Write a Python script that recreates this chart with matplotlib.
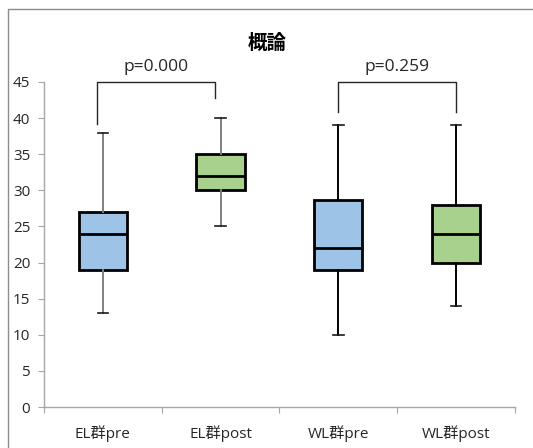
import matplotlib.pyplot as plt
from matplotlib.lines import Line2D

plt.rcParams["font.family"] = ["Open Sans", "Noto Sans CJK JP", "DejaVu Sans"]

# 群ごとの五数要約
labels = ["EL群pre", "EL群post", "WL群pre", "WL群post"]
whislo = [13, 25, 10, 14]
q1 = [19, 30, 19, 20]
med = [24, 32, 22, 24]
q3 = [27, 35, 28.6, 28]
whishi = [38, 40, 39, 39]
fills = ["#9DC3E6", "#A9D18E", "#9DC3E6", "#A9D18E"]
whisker_colors = ["#7f7f7f", "#7f7f7f", "#000000", "#000000"]

# 検定結果 (比較する2群の位置, 脚の下端, p値)
pairs = [(1, 2), (3, 4)]
leg_ends = [(39.2, 42.8), (40.9, 40.9)]
p_texts = ["p=0.000", "p=0.259"]

fig = plt.figure(figsize=(5.33, 4.48), dpi=100)
ax = fig.add_axes([0.0826, 0.0915, 0.8834, 0.7255])

stats = []
for i in range(len(labels)):
    stats.append({"whislo": whislo[i], "q1": q1[i], "med": med[i],
                  "q3": q3[i], "whishi": whishi[i], "fliers": []})

positions = [1, 2, 3, 4]
bp = ax.bxp(stats, positions=positions, widths=0.41, patch_artist=True,
            showfliers=False,
            boxprops=dict(linewidth=2.0, edgecolor="black"),
            medianprops=dict(color="black", linewidth=2.0),
            capwidths=0.09,
            capprops=dict(color="#1a1a1a", linewidth=1.2))
for patch, c in zip(bp["boxes"], fills):
    patch.set_facecolor(c)
for i, c in enumerate(whisker_colors):
    for w in bp["whiskers"][2 * i:2 * i + 2]:
        w.set_color(c)
        w.set_linewidth(1.4)

# 有意差のブラケット
offsets = [-0.05, 0.0]
for (a, b), (la, lb), txt, off in zip(pairs, leg_ends, p_texts, offsets):
    xa, xb = a + off, b + off
    ax.plot([xa, xa, xb, xb], [la, 45, 45, lb], color="#262626",
            linewidth=1.0, clip_on=False)
    ax.text((xa + xb) / 2, 46.0, txt, ha="center", va="bottom",
            fontsize=12.5, color="#262626")

ax.set_xlim(0.5, 4.5)
ax.set_ylim(0, 45)
ax.set_yticks(range(0, 46, 5))
ax.set_xticks([0.5, 1.5, 2.5, 3.5, 4.5])
ax.set_xticklabels([])
ax.set_xticks(positions, minor=True)
ax.set_xticklabels(labels, minor=True)
ax.tick_params(axis="x", which="minor", length=0, pad=13, labelsize=11,
               labelcolor="#262626")
ax.tick_params(axis="x", which="major", length=4, color="#a6a6a6")
ax.tick_params(axis="y", length=4, color="#a6a6a6", labelsize=11,
               labelcolor="#262626", pad=6)

for s in ["top", "right"]:
    ax.spines[s].set_visible(False)
for s in ["left", "bottom"]:
    ax.spines[s].set_color("#a6a6a6")
    ax.spines[s].set_linewidth(1.0)

fig.text(0.501, 0.903, "概論", ha="center", va="center", fontsize=14,
         fontweight="bold", color="#000000")

# 外枠 (上辺と左辺)
fig.add_artist(Line2D([8 / 533, 8 / 533, 1.0], [0.0, 1 - 9 / 448, 1 - 9 / 448],
                      transform=fig.transFigure, color="#8c8c8c", linewidth=1.0))

fig.savefig("out.png", dpi=100)
